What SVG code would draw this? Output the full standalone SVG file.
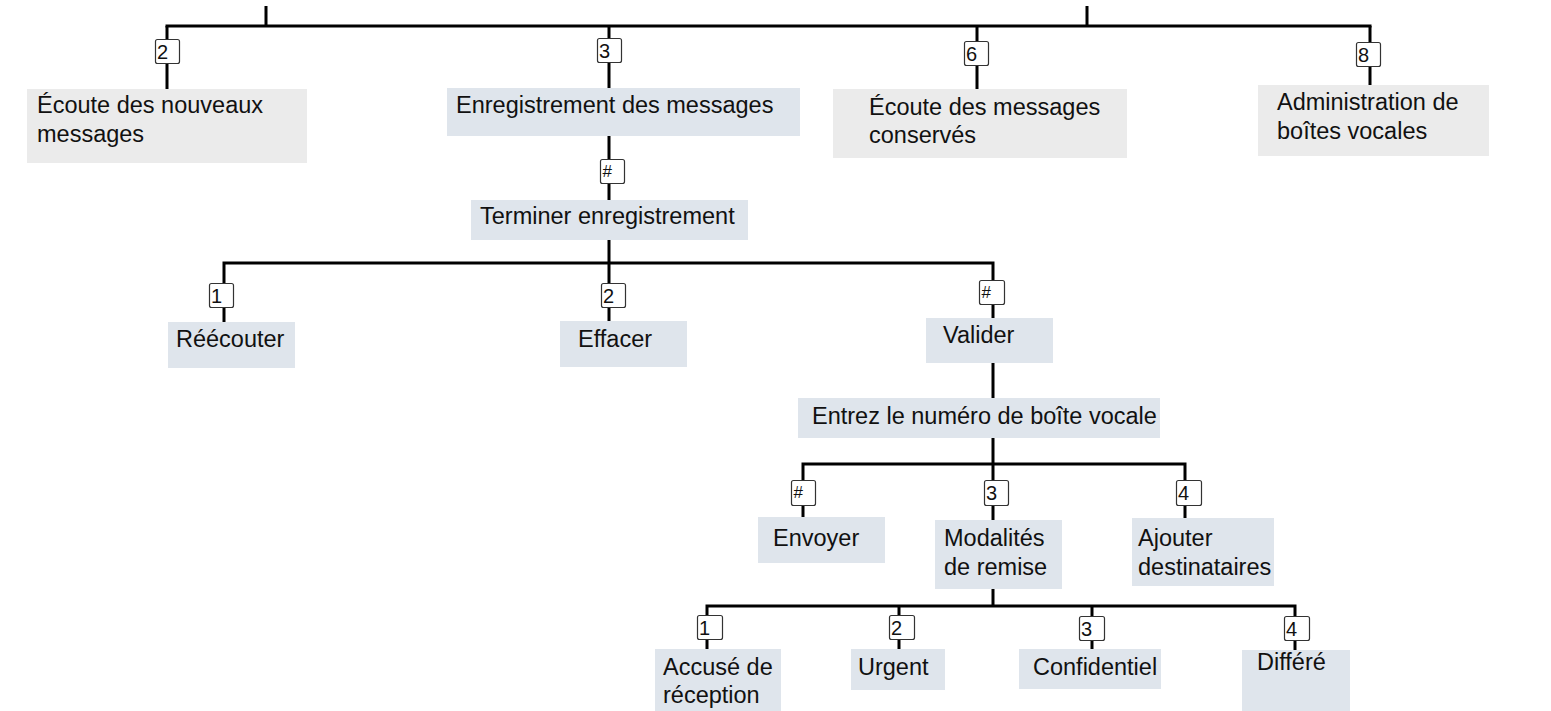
<svg xmlns="http://www.w3.org/2000/svg" width="1551" height="711" viewBox="0 0 1551 711">
<style>
.g{fill:#ebebeb}
.b{fill:#dfe5ec}
.t{font-family:"Liberation Sans",Arial,sans-serif;font-size:23.5px;fill:#111}
.k{fill:#fff;stroke:#333;stroke-width:1.2}
.kt{font-family:"Liberation Sans",Arial,sans-serif;font-size:20px;fill:#111}
.kh{font-family:"Liberation Sans",Arial,sans-serif;font-size:17px;fill:#111}
.c{stroke:#000;stroke-width:3;fill:none;stroke-linecap:butt}
</style>
<rect width="1551" height="711" fill="#fff"/>
<g id="connectors" class="c">
<path d="M266 6V27M1087 6V27M165.5 26H1371.5"/>
<path d="M167 26V89M609 26V88M977 26V89M1370 26V85"/>
<path d="M609 136V321M222.5 263H994.5M224 263V322M993 263V398M993 438V464"/>
<path d="M801.5 464H1186.5M803 464V517M993 464V520M1185 464V518"/>
<path d="M993 589V606M705.5 606H1296.5M707 606V649M899 606V649M1092 606V649M1295 606V650"/>
</g>
<g id="keys">
<g id="k-2a"><rect class="k" x="155.5" y="39.5" width="24" height="24" rx="2"/><text class="kt" x="157" y="59">2</text></g>
<g id="k-3a"><rect class="k" x="597.5" y="38.5" width="24" height="24" rx="2"/><text class="kt" x="599" y="58">3</text></g>
<g id="k-6a"><rect class="k" x="964.5" y="41.5" width="24" height="24" rx="2"/><text class="kt" x="966" y="61">6</text></g>
<g id="k-8a"><rect class="k" x="1356.5" y="42.5" width="24" height="24" rx="2"/><text class="kt" x="1358" y="62">8</text></g>
<g id="k-hb"><rect class="k" x="600.5" y="159.5" width="24" height="24" rx="2"/><text class="kh" x="602.5" y="177">#</text></g>
<g id="k-1c"><rect class="k" x="209.5" y="283.5" width="24" height="24" rx="2"/><text class="kt" x="211" y="303">1</text></g>
<g id="k-2c"><rect class="k" x="601.5" y="283.5" width="24" height="24" rx="2"/><text class="kt" x="603" y="303">2</text></g>
<g id="k-hc"><rect class="k" x="979.5" y="280.5" width="25" height="24" rx="2"/><text class="kh" x="981.5" y="298">#</text></g>
<g id="k-hd"><rect class="k" x="791.5" y="480.5" width="24" height="25" rx="2"/><text class="kh" x="793.5" y="498">#</text></g>
<g id="k-3d"><rect class="k" x="984.5" y="480.5" width="24" height="25" rx="2"/><text class="kt" x="986" y="500">3</text></g>
<g id="k-4d"><rect class="k" x="1176.5" y="480.5" width="25" height="25" rx="2"/><text class="kt" x="1178" y="500">4</text></g>
<g id="k-1e"><rect class="k" x="697.5" y="615.5" width="25" height="24" rx="2"/><text class="kt" x="699" y="635">1</text></g>
<g id="k-2e"><rect class="k" x="889.5" y="615.5" width="25" height="24" rx="2"/><text class="kt" x="891" y="635">2</text></g>
<g id="k-3e"><rect class="k" x="1079.5" y="616.5" width="25" height="24" rx="2"/><text class="kt" x="1081" y="636">3</text></g>
<g id="k-4e"><rect class="k" x="1284.5" y="616.5" width="25" height="24" rx="2"/><text class="kt" x="1286" y="636">4</text></g>
</g>
<g id="n-ecoute-nouveaux"><rect class="g" x="27" y="89" width="280" height="74"/><text class="t" x="37" y="113">Écoute des nouveaux</text><text class="t" x="37" y="141.5">messages</text></g>
<g id="n-enregistrement"><rect class="b" x="447" y="88" width="353" height="48"/><text class="t" x="456" y="113">Enregistrement des messages</text></g>
<g id="n-ecoute-conserves"><rect class="g" x="833" y="89" width="294" height="69"/><text class="t" x="869" y="114.5">Écoute des messages</text><text class="t" x="869" y="143">conservés</text></g>
<g id="n-administration"><rect class="g" x="1258" y="85" width="231" height="71"/><text class="t" x="1277" y="110">Administration de</text><text class="t" x="1277" y="138.5">boîtes vocales</text></g>
<g id="n-terminer"><rect class="b" x="471" y="200" width="277" height="40"/><text class="t" x="480" y="224">Terminer enregistrement</text></g>
<g id="n-reecouter"><rect class="b" x="168" y="322" width="127" height="46"/><text class="t" x="176" y="346.5">Réécouter</text></g>
<g id="n-effacer"><rect class="b" x="560" y="321" width="127" height="46"/><text class="t" x="578" y="346.5">Effacer</text></g>
<g id="n-valider"><rect class="b" x="926" y="318" width="127" height="45"/><text class="t" x="943" y="343">Valider</text></g>
<g id="n-entrez"><rect class="b" x="798" y="398" width="362" height="40"/><text class="t" x="812" y="424">Entrez le numéro de boîte vocale</text></g>
<g id="n-envoyer"><rect class="b" x="758" y="517" width="127" height="46"/><text class="t" x="773" y="546">Envoyer</text></g>
<g id="n-modalites"><rect class="b" x="935" y="520" width="127" height="69"/><text class="t" x="944" y="546">Modalités</text><text class="t" x="944" y="575">de remise</text></g>
<g id="n-ajouter"><rect class="b" x="1132" y="518" width="142" height="68"/><text class="t" x="1138" y="546">Ajouter</text><text class="t" x="1138" y="575">destinataires</text></g>
<g id="n-accuse"><rect class="b" x="655" y="649" width="126" height="62"/><text class="t" x="663" y="675">Accusé de</text><text class="t" x="663" y="703">réception</text></g>
<g id="n-urgent"><rect class="b" x="851" y="649" width="94" height="41"/><text class="t" x="858" y="675">Urgent</text></g>
<g id="n-confidentiel"><rect class="b" x="1019" y="649" width="142" height="40"/><text class="t" x="1033" y="675">Confidentiel</text></g>
<g id="n-differe"><rect class="b" x="1242" y="650" width="108" height="61"/><text class="t" x="1257" y="670">Différé</text></g>
</svg>
